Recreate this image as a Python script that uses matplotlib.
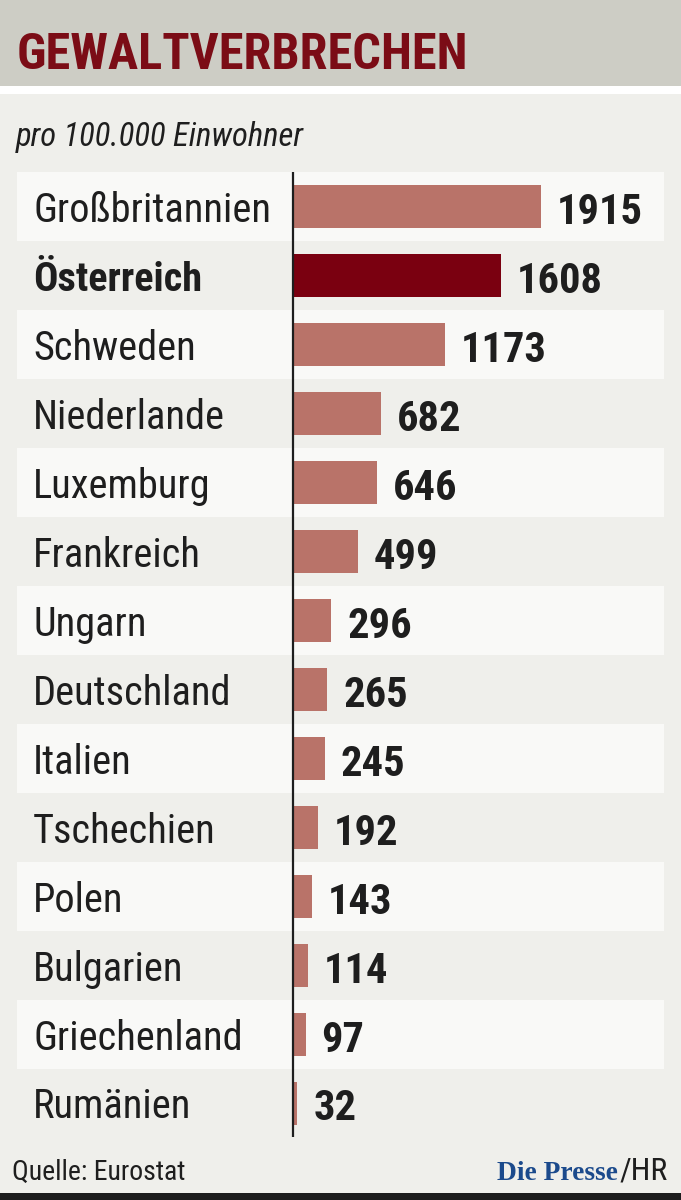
import os
import matplotlib
matplotlib.use("Agg")
import matplotlib.pyplot as plt
import matplotlib.transforms as mtransforms
from matplotlib import font_manager as fm
from matplotlib.patches import Rectangle

countries = ["Großbritannien", "Österreich", "Schweden", "Niederlande", "Luxemburg",
             "Frankreich", "Ungarn", "Deutschland", "Italien", "Tschechien", "Polen",
             "Bulgarien", "Griechenland", "Rumänien"]
values = [1915, 1608, 1173, 682, 646, 499, 296, 265, 245, 192, 143, 114, 97, 32]
highlight = "Österreich"

title = "GEWALTVERBRECHEN"
subtitle = "pro 100.000 Einwohner"
source = "Quelle: Eurostat"
brand = "Die Presse"
author = "/HR"

W, H = 681, 1200
DPI = 100


def _w(f):
    w = f.weight
    if isinstance(w, str):
        w = fm.weight_dict.get(w, 400)
    return int(w)


def _norm(path):
    b = os.path.basename(path).lower()
    for ch in "-_ .":
        b = b.replace(ch, "")
    return b


def pick(weight, italic, keys):
    best, best_score = None, None
    for f in fm.fontManager.ttflist:
        n = _norm(f.fname)
        is_it = f.style in ("italic", "oblique")
        if is_it != italic:
            continue
        rank = None
        for k_i, k in enumerate(keys):
            if k in n:
                rank = k_i
                break
        if rank is None:
            continue
        score = (rank, abs(_w(f) - weight))
        if best_score is None or score < best_score:
            best, best_score = f, score
    if best is None:
        return fm.FontProperties(family="DejaVu Sans",
                                 weight="bold" if weight >= 600 else "normal",
                                 style="italic" if italic else "normal")
    return fm.FontProperties(fname=best.fname)


COND = ["robotocondensed", "notosanscondensed", "liberationsansnarrow",
        "opensanscondensed", "dejavusanscondensed", "semicondensed",
        "condensed", "narrow"]
TITLE_KEYS = ["notosansextracondensed", "robotocondensed", "notosanscondensed",
              "liberationsansnarrow", "opensanscondensed", "dejavusanscondensed",
              "condensed", "narrow"]

fp_reg = pick(400, False, COND)
fp_bold = pick(700, False, COND)
fp_it = pick(400, True, COND)
fp_title = pick(800, False, TITLE_KEYS)
fp_serif = fm.FontProperties(family=["Liberation Serif", "DejaVu Serif"], weight="bold")

fig = plt.figure(figsize=(W / DPI, H / DPI), dpi=DPI)
fig.patch.set_facecolor("#efefeb")


def fx(px):
    return px / W


def fy(py):
    return 1 - py / H


fig.patches.append(Rectangle((0, fy(86)), 1, 86 / H, transform=fig.transFigure,
                             facecolor="#cdcdc5", edgecolor="none", zorder=0))
fig.patches.append(Rectangle((0, fy(94)), 1, 8 / H, transform=fig.transFigure,
                             facecolor="#ffffff", edgecolor="none", zorder=0))
fig.patches.append(Rectangle((0, 0), 1, 7 / H, transform=fig.transFigure,
                             facecolor="#1c1c1c", edgecolor="none", zorder=0))

renderer = fig.canvas.get_renderer()


def fit_size(fp, text, target_px):
    t = fig.text(0, 0, text, fontproperties=fp, fontsize=20)
    bb = t.get_window_extent(renderer)
    t.remove()
    return 20 * target_px / bb.width


def ftext(x, y, s, fp, size, **kw):
    return fig.text(fx(x), fy(y), s, fontproperties=fp, fontsize=size, **kw)


ftext(17, 69, title, fp_title, fit_size(fp_title, title, 452),
      color="#7b0c16", ha="left", va="baseline")
ftext(16, 146, subtitle, fp_it, fit_size(fp_it, subtitle, 288),
      color="#1e1e1e", ha="left", va="baseline")
ftext(12, 1180, source, fp_reg, fit_size(fp_reg, source, 173),
      color="#1e1e1e", ha="left", va="baseline")
ftext(668, 1180, author, fp_reg, fit_size(fp_reg, author, 48),
      color="#1e1e1e", ha="right", va="baseline")
ftext(618, 1180, brand, fp_serif, fit_size(fp_serif, brand, 121),
      color="#1b4a8c", ha="right", va="baseline")

label_size = fit_size(fp_reg, "Großbritannien", 236)
value_size = fit_size(fp_bold, "1915", 86)

# chart axes
top_px, row_px = 172, 69
n = len(countries)
ax_left, ax_right = 17, 664
zero_px = 293
scale = (541 - zero_px) / 1915.0  # px per unit
ax = fig.add_axes([fx(ax_left), fy(top_px + row_px * n), (ax_right - ax_left) / W,
                   row_px * n / H])
ax.set_facecolor("none")
ax.set_xlim(-(zero_px - ax_left) / scale, (ax_right - zero_px) / scale)
ax.set_ylim(n - 0.5, -0.5)
ax.axis("off")

for i in range(0, n, 2):
    ax.axhspan(i - 0.5, i + 0.5, xmin=0, xmax=1, facecolor="#f9f9f7",
               edgecolor="none", zorder=0)

colors = ["#7a0010" if c == highlight else "#b97369" for c in countries]
ax.barh(range(n), values, height=0.62, color=colors, zorder=2)
ax.plot([0, 0], [-0.5, n - 0.52], color="#1e1e1e", lw=1.6, zorder=3,
        solid_capstyle="butt")

lab_tr = mtransforms.blended_transform_factory(fig.transFigure, ax.transData)
for i, (c, v) in enumerate(zip(countries, values)):
    ax.annotate(c, xy=(fx(33), i), xycoords=lab_tr, xytext=(0, -15),
                textcoords="offset pixels",
                fontproperties=fp_bold if c == highlight else fp_reg, fontsize=label_size,
                color="#1e1e1e", ha="left", va="baseline")
    ax.annotate(f"{v}", xy=(v, i), xytext=(16, -17), textcoords="offset pixels",
                fontproperties=fp_bold, fontsize=value_size, color="#1e1e1e",
                ha="left", va="baseline")

fig.savefig("out.png", dpi=DPI, facecolor=fig.get_facecolor())
